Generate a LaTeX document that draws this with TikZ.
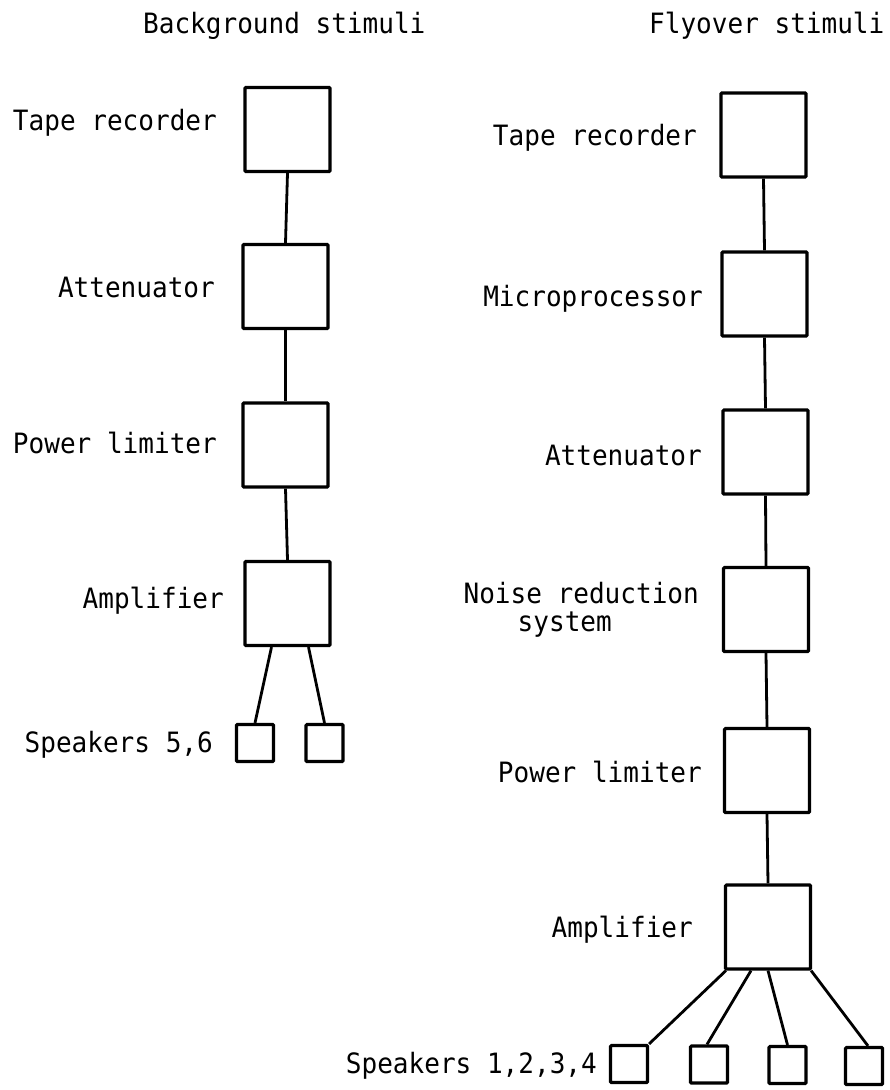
\documentclass[tikz,border=0pt]{standalone}
\usepackage{fontspec}
\newfontfamily\typew[FakeStretch=0.93]{DejaVu Sans Mono}
\begin{document}
\begin{tikzpicture}[x=1pt,y=-1pt,
  blk/.style={draw,line width=3.2pt,minimum width=85pt,minimum height=84pt,inner sep=0pt,rounded corners=1pt},
  spk/.style={draw,line width=3.2pt,minimum width=37pt,minimum height=37pt,inner sep=0pt,rounded corners=1pt},
  wire/.style={line width=2.8pt},
  lbl/.style={font=\typew\fontsize{28}{32}\selectfont,inner sep=0pt,anchor=base east},
  ttl/.style={font=\typew\fontsize{28}{32}\selectfont,inner sep=0pt,anchor=base west}]
\useasboundingbox (0,0) rectangle (890,1090);
% titles
\node[ttl] (t1) at (143,33) {Background stimuli};
\node[ttl] (t2) at (649,33) {Flyover stimuli};
% left column
\node[blk] (L1) at (287.5,129.5) {};
\node[blk] (L2) at (285.5,286.5) {};
\node[blk] (L3) at (285.5,445) {};
\node[blk] (L4) at (287.5,603.5) {};
\node[spk] (LS1) at (255,743) {};
\node[spk] (LS2) at (324.5,743) {};
\node[lbl] (l1) at (217,130) {Tape recorder};
\node[lbl] (l2) at (215,297) {Attenuator};
\node[lbl] (l3) at (217,453) {Power limiter};
\node[lbl] (l4) at (224,608) {Amplifier};
\node[lbl] (l5) at (213,752) {Speakers 5,6};
\draw[wire] (L1.south) -- (L2.north);
\draw[wire] (L2.south) -- (L3.north);
\draw[wire] (L3.south) -- (L4.north);
\draw[wire] ([xshift=-16pt]L4.south) -- (LS1.north);
\draw[wire] ([xshift=21pt]L4.south) -- (LS2.north);
% right column
\node[blk] (R1) at (763.5,135) {};
\node[blk] (R2) at (764.5,294) {};
\node[blk] (R3) at (765.5,452) {};
\node[blk] (R4) at (766,609.5) {};
\node[blk] (R5) at (767,770.5) {};
\node[blk] (R6) at (768,927) {};
\node[spk] (RS1) at (629,1064) {};
\node[spk] (RS2) at (709,1064.5) {};
\node[spk] (RS3) at (787.5,1065) {};
\node[spk] (RS4) at (864,1066) {};
\node[lbl] (r1) at (697,145) {Tape recorder};
\node[lbl] (r2) at (703,306) {Microprocessor};
\node[lbl] (r3) at (702,465) {Attenuator};
\node[lbl] (r4) at (699,603) {Noise reduction};
\node[lbl] (r4b) at (612,631) {system};
\node[lbl] (r5) at (702,782) {Power limiter};
\node[lbl] (r6) at (693,937) {Amplifier};
\node[lbl] (r7) at (597,1073) {Speakers 1,2,3,4};
\draw[wire] (R1.south) -- (R2.north);
\draw[wire] (R2.south) -- (R3.north);
\draw[wire] (R3.south) -- (R4.north);
\draw[wire] (R4.south) -- (R5.north);
\draw[wire] (R5.south) -- (R6.north);
\draw[wire] ([xshift=2pt]R6.south west) -- (RS1.north east);
\draw[wire] ([xshift=-17pt]R6.south) -- ([xshift=-2pt]RS2.north);
\draw[wire] (R6.south) -- (RS3.north);
\draw[wire] ([xshift=-1pt]R6.south east) -- ([xshift=4pt]RS4.north);
\end{tikzpicture}
\end{document}
